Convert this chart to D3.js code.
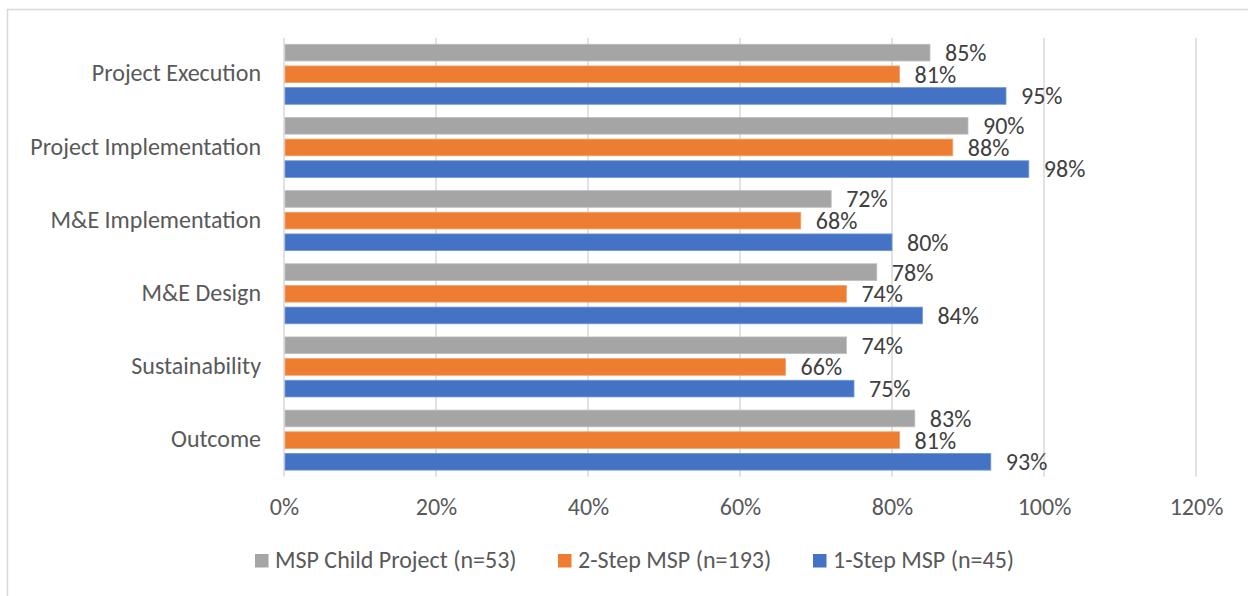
<!DOCTYPE html>
<html>
<head>
<meta charset="utf-8">
<script src="https://cdn.jsdelivr.net/npm/d3@7/dist/d3.min.js"></script>
<style>
  html, body { margin: 0; padding: 0; background: #fff; }
  svg { display: block; }
  text { font-family: Carlito, Lato, "Open Sans", sans-serif; }
</style>
</head>
<body>
<svg id="chart" width="1248" height="596"></svg>
<script>
// Survey dimensions, top to bottom
const categories = [
  "Project Execution",
  "Project Implementation",
  "M&E Implementation",
  "M&E Design",
  "Sustainability",
  "Outcome"
];

// Series names (legend order) and their values per category, in percent
const seriesNames = [
  "MSP Child Project (n=53)",
  "2-Step MSP (n=193)",
  "1-Step MSP (n=45)"
];
const childProject = [85, 90, 72, 78, 74, 83];
const twoStep      = [81, 88, 68, 74, 66, 81];
const oneStep      = [95, 98, 80, 84, 75, 93];
const seriesValues = [childProject, twoStep, oneStep];

const seriesColors = ["#A5A5A5", "#ED7D31", "#4472C4"];
const seriesEdges  = ["#BDBDBD", "#F4A170", "#7096D6"];

// X axis ticks
const xTicks = [0, 20, 40, 60, 80, 100, 120];

const FONT = 24;
const svg = d3.select("#chart");

// Outer chart frame
svg.append("rect")
  .attr("x", 7.5).attr("y", 9.5)
  .attr("width", 1260).attr("height", 620)
  .attr("fill", "none")
  .attr("stroke", "#d9d9d9")
  .attr("stroke-width", 1.5);

const plot = { left: 284, right: 1196, top: 37.7, bottom: 476.7 };

const x = d3.scaleLinear().domain([0, 120]).range([plot.left, plot.right]);

const y0 = d3.scaleBand()
  .domain(categories)
  .range([plot.top, plot.bottom])
  .paddingInner(0.18)
  .paddingOuter(0.09);

const y1 = d3.scaleBand()
  .domain(d3.range(seriesNames.length))
  .range([0, y0.bandwidth()])
  .paddingInner(0.23)
  .paddingOuter(0);

// Vertical gridlines
svg.append("g")
  .selectAll("line")
  .data(xTicks)
  .join("line")
  .attr("x1", d => x(d)).attr("x2", d => x(d))
  .attr("y1", plot.top).attr("y2", plot.bottom)
  .attr("stroke", "#d9d9d9")
  .attr("stroke-width", 1.5);

// X axis tick labels
const xAxis = d3.axisBottom(x)
  .tickValues(xTicks)
  .tickFormat(d => d + "%")
  .tickSize(0)
  .tickPadding(0);

const gx = svg.append("g")
  .attr("transform", "translate(0,515)")
  .call(xAxis);
gx.select(".domain").remove();
gx.selectAll("text")
  .attr("dy", "0")
  .attr("y", 0)
  .attr("font-size", FONT)
  .attr("fill", "#595959")
  .attr("font-family", "Carlito, Lato, sans-serif");

// Category labels
const yAxis = d3.axisLeft(y0).tickSize(0).tickPadding(0);
const gy = svg.append("g")
  .attr("transform", `translate(${plot.left - 23},0)`)
  .call(yAxis);
gy.select(".domain").remove();
gy.selectAll("text")
  .attr("dy", "0.3em")
  .attr("font-size", FONT)
  .attr("fill", "#595959")
  .attr("font-family", "Carlito, Lato, sans-serif");

// Bars and value labels
const groups = svg.append("g")
  .selectAll("g")
  .data(categories)
  .join("g")
  .attr("transform", d => `translate(0,${y0(d)})`);

groups.each(function(cat, ci) {
  const g = d3.select(this);
  seriesValues.forEach((vals, si) => {
    const v = vals[ci];
    g.append("rect")
      .attr("x", x(0) + 1)
      .attr("y", y1(si))
      .attr("width", x(v) - x(0) - 1)
      .attr("height", y1.bandwidth())
      .attr("fill", seriesColors[si])
      .attr("stroke", seriesEdges[si])
      .attr("stroke-width", 0.8);
    g.append("text")
      .attr("x", x(v) + 15)
      .attr("y", y1(si) + y1.bandwidth() / 2)
      .attr("dy", "0.35em")
      .attr("font-size", FONT)
      .attr("fill", "#404040")
      .text(v + "%");
  });
});

// Legend
const legendX = [255, 558, 813];
const legend = svg.append("g")
  .selectAll("g")
  .data(seriesNames)
  .join("g")
  .attr("transform", (d, i) => `translate(${legendX[i]},568)`);
legend.append("rect")
  .attr("x", 0).attr("y", -14)
  .attr("width", 13.5).attr("height", 13.5)
  .attr("fill", (d, i) => seriesColors[i]);
legend.append("text")
  .attr("x", 20)
  .attr("y", 0)
  .attr("font-size", FONT)
  .attr("fill", "#595959")
  .text(d => d);
</script>
</body>
</html>
